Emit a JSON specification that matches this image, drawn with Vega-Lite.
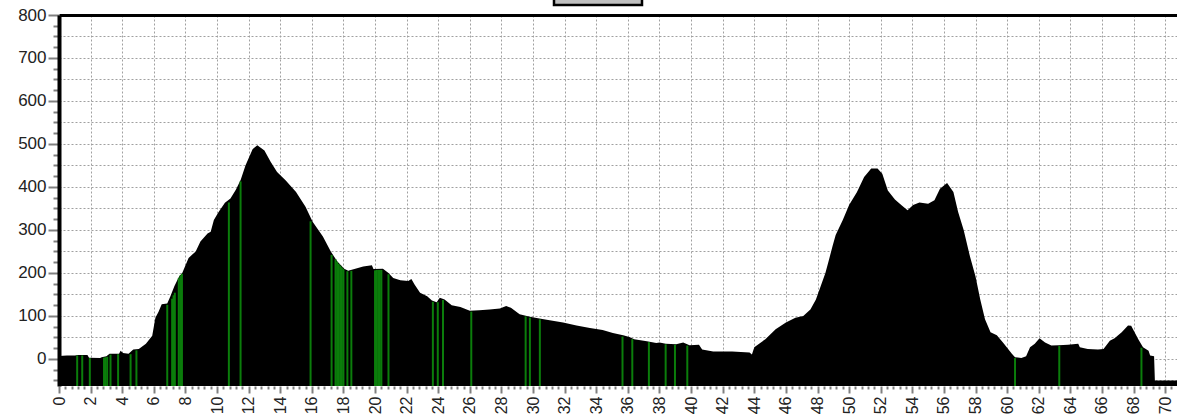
{
  "$schema": "https://vega.github.io/schema/vega-lite/v6.json",
  "width": 1118,
  "height": 371,
  "autosize": {"type": "none"},
  "padding": {"left": 59, "top": 15, "right": 0, "bottom": 30},
  "background": "white",
  "config": {"view": {"stroke": null}},
  "datasets": {
    "profile": [
      {"km": 0, "elev": 7}, {"km": 0.5, "elev": 8}, {"km": 1.0, "elev": 8}, {"km": 1.2, "elev": 9}, {"km": 1.8, "elev": 9},
      {"km": 1.9, "elev": 3}, {"km": 2.6, "elev": 2}, {"km": 2.7, "elev": 4}, {"km": 3.0, "elev": 6}, {"km": 3.2, "elev": 12},
      {"km": 3.8, "elev": 12}, {"km": 3.9, "elev": 19}, {"km": 4.05, "elev": 14}, {"km": 4.4, "elev": 12}, {"km": 4.7, "elev": 22},
      {"km": 5.05, "elev": 23}, {"km": 5.5, "elev": 35}, {"km": 5.9, "elev": 54}, {"km": 6.1, "elev": 96}, {"km": 6.3, "elev": 110},
      {"km": 6.5, "elev": 127}, {"km": 6.85, "elev": 129}, {"km": 7.05, "elev": 146}, {"km": 7.3, "elev": 169}, {"km": 7.6, "elev": 192},
      {"km": 7.8, "elev": 200}, {"km": 8.2, "elev": 235}, {"km": 8.65, "elev": 250}, {"km": 8.95, "elev": 273}, {"km": 9.4, "elev": 292},
      {"km": 9.6, "elev": 296}, {"km": 9.8, "elev": 323}, {"km": 10.1, "elev": 342}, {"km": 10.5, "elev": 363}, {"km": 10.85, "elev": 373},
      {"km": 11.2, "elev": 394}, {"km": 11.5, "elev": 417}, {"km": 11.8, "elev": 450}, {"km": 12.25, "elev": 488}, {"km": 12.55, "elev": 497},
      {"km": 13.0, "elev": 485}, {"km": 13.4, "elev": 458}, {"km": 13.8, "elev": 435}, {"km": 14.35, "elev": 415}, {"km": 15.0, "elev": 388},
      {"km": 15.6, "elev": 354}, {"km": 16.05, "elev": 319}, {"km": 16.7, "elev": 285}, {"km": 17.2, "elev": 250}, {"km": 17.6, "elev": 227},
      {"km": 18.05, "elev": 210}, {"km": 18.3, "elev": 205}, {"km": 18.75, "elev": 210}, {"km": 19.25, "elev": 215}, {"km": 19.8, "elev": 218},
      {"km": 19.9, "elev": 209}, {"km": 20.5, "elev": 210}, {"km": 20.85, "elev": 200}, {"km": 21.15, "elev": 188}, {"km": 21.6, "elev": 183},
      {"km": 22.1, "elev": 181}, {"km": 22.3, "elev": 186}, {"km": 22.5, "elev": 173}, {"km": 22.85, "elev": 154}, {"km": 23.3, "elev": 146},
      {"km": 23.6, "elev": 136}, {"km": 23.9, "elev": 132}, {"km": 24.1, "elev": 142}, {"km": 24.4, "elev": 138}, {"km": 24.85, "elev": 125},
      {"km": 25.4, "elev": 121}, {"km": 26.0, "elev": 112}, {"km": 26.6, "elev": 113}, {"km": 27.25, "elev": 115}, {"km": 27.9, "elev": 117},
      {"km": 28.3, "elev": 123}, {"km": 28.6, "elev": 119}, {"km": 29.15, "elev": 104}, {"km": 29.8, "elev": 98}, {"km": 30.4, "elev": 94},
      {"km": 31.05, "elev": 90}, {"km": 31.9, "elev": 85}, {"km": 32.75, "elev": 78}, {"km": 33.6, "elev": 72}, {"km": 34.4, "elev": 67},
      {"km": 35.05, "elev": 60}, {"km": 35.7, "elev": 55}, {"km": 36.1, "elev": 51}, {"km": 36.4, "elev": 46}, {"km": 37.2, "elev": 41},
      {"km": 37.8, "elev": 37}, {"km": 38.0, "elev": 38}, {"km": 38.4, "elev": 35}, {"km": 39.05, "elev": 34}, {"km": 39.5, "elev": 38},
      {"km": 39.9, "elev": 32}, {"km": 40.5, "elev": 33}, {"km": 40.7, "elev": 22}, {"km": 41.4, "elev": 17}, {"km": 42.6, "elev": 17},
      {"km": 43.7, "elev": 15}, {"km": 43.85, "elev": 10}, {"km": 44.0, "elev": 27}, {"km": 44.7, "elev": 46}, {"km": 45.35, "elev": 69},
      {"km": 46.0, "elev": 85}, {"km": 46.6, "elev": 96}, {"km": 47.1, "elev": 100}, {"km": 47.55, "elev": 115}, {"km": 47.9, "elev": 138},
      {"km": 48.2, "elev": 169}, {"km": 48.5, "elev": 200}, {"km": 48.7, "elev": 227}, {"km": 48.95, "elev": 262}, {"km": 49.15, "elev": 288},
      {"km": 49.6, "elev": 323}, {"km": 50.0, "elev": 358}, {"km": 50.5, "elev": 388}, {"km": 50.95, "elev": 423}, {"km": 51.4, "elev": 443},
      {"km": 51.8, "elev": 443}, {"km": 52.1, "elev": 431}, {"km": 52.45, "elev": 392}, {"km": 52.9, "elev": 371}, {"km": 53.3, "elev": 358},
      {"km": 53.7, "elev": 346}, {"km": 54.05, "elev": 358}, {"km": 54.45, "elev": 364}, {"km": 55.0, "elev": 361}, {"km": 55.4, "elev": 369},
      {"km": 55.75, "elev": 396}, {"km": 56.2, "elev": 409}, {"km": 56.6, "elev": 388}, {"km": 56.9, "elev": 342}, {"km": 57.25, "elev": 300},
      {"km": 57.65, "elev": 238}, {"km": 58.0, "elev": 192}, {"km": 58.3, "elev": 138}, {"km": 58.6, "elev": 92}, {"km": 58.95, "elev": 62},
      {"km": 59.35, "elev": 55}, {"km": 59.8, "elev": 35}, {"km": 60.3, "elev": 12}, {"km": 60.5, "elev": 4}, {"km": 60.9, "elev": 2},
      {"km": 61.2, "elev": 6}, {"km": 61.45, "elev": 27}, {"km": 61.75, "elev": 35}, {"km": 62.05, "elev": 48}, {"km": 62.4, "elev": 38},
      {"km": 62.8, "elev": 31}, {"km": 63.25, "elev": 32}, {"km": 63.85, "elev": 33}, {"km": 64.5, "elev": 35}, {"km": 64.6, "elev": 27},
      {"km": 65.1, "elev": 23}, {"km": 65.75, "elev": 22}, {"km": 66.1, "elev": 23}, {"km": 66.5, "elev": 42}, {"km": 66.8, "elev": 48},
      {"km": 67.25, "elev": 62}, {"km": 67.65, "elev": 78}, {"km": 67.85, "elev": 77}, {"km": 68.3, "elev": 46}, {"km": 68.6, "elev": 27},
      {"km": 68.95, "elev": 19}, {"km": 69.05, "elev": 8}, {"km": 69.3, "elev": 6}, {"km": 69.35, "elev": -50}, {"km": 70.75, "elev": -50}
    ],
    "marks": [
      {"km": 1.15, "elev": 8}, {"km": 1.47, "elev": 8}, {"km": 1.95, "elev": 2}, {"km": 2.85, "elev": 3}, {"km": 2.95, "elev": 4},
      {"km": 3.05, "elev": 5}, {"km": 3.26, "elev": 10}, {"km": 3.74, "elev": 11}, {"km": 4.53, "elev": 11}, {"km": 4.9, "elev": 20},
      {"km": 6.85, "elev": 126}, {"km": 7.16, "elev": 140}, {"km": 7.25, "elev": 148}, {"km": 7.33, "elev": 154}, {"km": 7.58, "elev": 188},
      {"km": 7.68, "elev": 194}, {"km": 7.78, "elev": 198}, {"km": 10.75, "elev": 364}, {"km": 11.49, "elev": 413}, {"km": 15.92, "elev": 320},
      {"km": 17.25, "elev": 242}, {"km": 17.5, "elev": 232}, {"km": 17.6, "elev": 226}, {"km": 17.7, "elev": 221}, {"km": 17.8, "elev": 217},
      {"km": 17.9, "elev": 213}, {"km": 18.0, "elev": 209}, {"km": 18.25, "elev": 204}, {"km": 18.5, "elev": 205}, {"km": 20.0, "elev": 206},
      {"km": 20.1, "elev": 207}, {"km": 20.2, "elev": 207}, {"km": 20.3, "elev": 207}, {"km": 20.4, "elev": 207}, {"km": 20.85, "elev": 197},
      {"km": 23.66, "elev": 133}, {"km": 23.97, "elev": 132}, {"km": 24.3, "elev": 137}, {"km": 26.09, "elev": 110}, {"km": 29.53, "elev": 99},
      {"km": 29.8, "elev": 96}, {"km": 30.43, "elev": 92}, {"km": 35.66, "elev": 52}, {"km": 36.28, "elev": 46}, {"km": 37.33, "elev": 39},
      {"km": 38.39, "elev": 34}, {"km": 38.98, "elev": 33}, {"km": 39.76, "elev": 31}, {"km": 60.5, "elev": 2}, {"km": 63.3, "elev": 30},
      {"km": 68.5, "elev": 26}
    ]
  },
  "layer": [
    {
      "data": {"name": "profile"},
      "mark": {"type": "area", "color": "black", "interpolate": "linear"},
      "encoding": {
        "x": {
          "field": "km", "type": "quantitative",
          "scale": {"domain": [0, 70.75], "nice": false, "zero": false},
          "axis": {
            "orient": "bottom", "title": null, "domain": false,
            "values": [0,0.4,0.8,1.2,1.6,2,2.4,2.8,3.2,3.6,4,4.4,4.8,5.2,5.6,6,6.4,6.8,7.2,7.6,8,8.4,8.8,9.2,9.6,10,10.4,10.8,11.2,11.6,12,12.4,12.8,13.2,13.6,14,14.4,14.8,15.2,15.6,16,16.4,16.8,17.2,17.6,18,18.4,18.8,19.2,19.6,20,20.4,20.8,21.2,21.6,22,22.4,22.8,23.2,23.6,24,24.4,24.8,25.2,25.6,26,26.4,26.8,27.2,27.6,28,28.4,28.8,29.2,29.6,30,30.4,30.8,31.2,31.6,32,32.4,32.8,33.2,33.6,34,34.4,34.8,35.2,35.6,36,36.4,36.8,37.2,37.6,38,38.4,38.8,39.2,39.6,40,40.4,40.8,41.2,41.6,42,42.4,42.8,43.2,43.6,44,44.4,44.8,45.2,45.6,46,46.4,46.8,47.2,47.6,48,48.4,48.8,49.2,49.6,50,50.4,50.8,51.2,51.6,52,52.4,52.8,53.2,53.6,54,54.4,54.8,55.2,55.6,56,56.4,56.8,57.2,57.6,58,58.4,58.8,59.2,59.6,60,60.4,60.8,61.2,61.6,62,62.4,62.8,63.2,63.6,64,64.4,64.8,65.2,65.6,66,66.4,66.8,67.2,67.6,68,68.4,68.8,69.2,69.6,70,70.4],
            "labelExpr": "datum.value % 2 === 0 ? format(datum.value, 'd') : ''",
            "labelAngle": 270, "labelFont": "Liberation Sans", "labelFontSize": 16, "labelColor": "#222222",
            "labelPadding": 3, "labelOverlap": false, "labelFlush": false, "labelBound": false,
            "tickColor": "#808080", "tickWidth": 2,
            "tickSize": {"condition": {"test": "datum.value % 2 === 0", "value": 7}, "value": 3},
            "grid": true, "gridColor": "#a0a0a0", "gridDash": [2, 2], "gridWidth": 1,
            "gridOpacity": {"condition": {"test": "datum.value % 2 === 0", "value": 1}, "value": 0}
          }
        },
        "y": {
          "field": "elev", "type": "quantitative",
          "scale": {"domain": [-63, 800], "nice": false, "zero": false},
          "axis": {
            "title": null,
            "values": [-50,-25,0,25,50,75,100,125,150,175,200,225,250,275,300,325,350,375,400,425,450,475,500,525,550,575,600,625,650,675,700,725,750,775,800],
            "labelExpr": "datum.value % 100 === 0 ? format(datum.value, 'd') : ''",
            "labelFont": "Liberation Sans", "labelFontSize": 17, "labelColor": "#222222",
            "labelPadding": 2, "labelOverlap": false, "labelFlush": false,
            "domain": true, "domainColor": "black", "domainWidth": 4,
            "tickColor": "#808080", "tickWidth": 2,
            "tickSize": {"condition": {"test": "datum.value % 100 === 0", "value": 11}, "value": 6},
            "grid": true, "gridColor": "#a0a0a0", "gridDash": [2, 2], "gridWidth": 1,
            "gridOpacity": {"condition": {"test": "datum.value % 50 === 0", "value": 1}, "value": 0}
          }
        },
        "y2": {"datum": -63}
      }
    },
    {
      "data": {"name": "marks"},
      "mark": {"type": "rule", "color": "#0b7d0b", "strokeWidth": 2},
      "encoding": {
        "x": {
          "field": "km", "type": "quantitative",
          "axis": {"orient": "top", "title": null, "labels": false, "ticks": false, "grid": false, "domain": true, "domainColor": "black", "domainWidth": 3}
        },
        "y": {"field": "elev", "type": "quantitative", "axis": null},
        "y2": {"datum": -63},
        "fill": {
          "field": "elev", "type": "quantitative",
          "scale": {"range": ["#c0c0c0", "#c0c0c0"]},
          "legend": {
            "orient": "none", "legendX": 495, "legendY": -18, "direction": "horizontal",
            "gradientLength": 88, "gradientThickness": 8,
            "gradientStrokeColor": "black", "gradientStrokeWidth": 2.5,
            "labelExpr": "''", "labelOpacity": 0, "labelFontSize": 1, "title": null, "padding": 0
          }
        }
      }
    }
  ],
  "resolve": {"axis": {"x": "independent", "y": "independent"}}
}
